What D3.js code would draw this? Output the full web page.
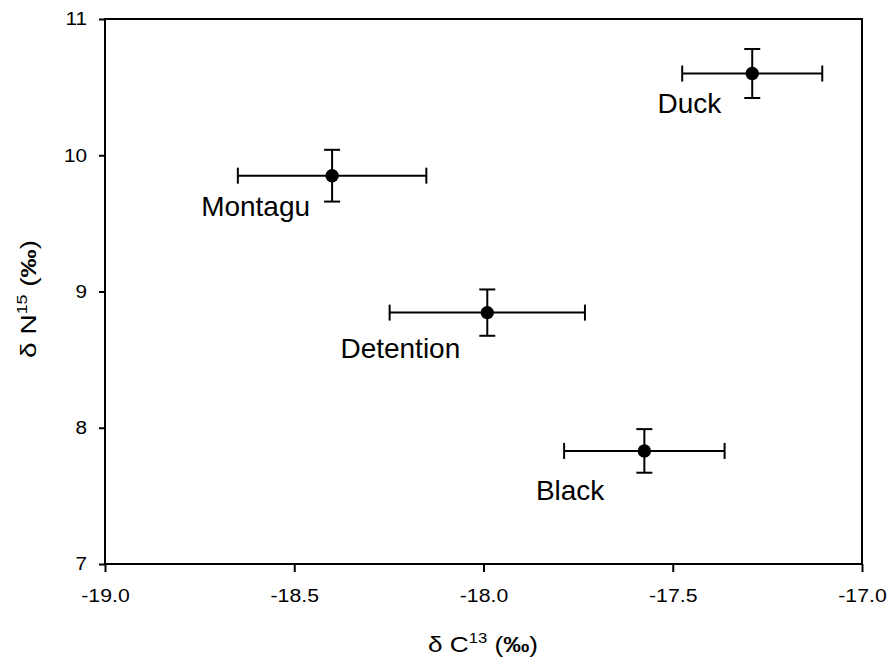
<!DOCTYPE html>
<html>
<head>
<meta charset="utf-8">
<script src="https://cdn.jsdelivr.net/npm/d3@7"></script>
<style>
  body { margin: 0; background: #fff; }
  svg text { font-family: "Liberation Sans", Arial, sans-serif; fill: #000; }
</style>
</head>
<body>
<svg id="chart" width="888" height="657"></svg>
<script>
// site means with standard errors for carbon and nitrogen isotopes
const sites = ["Duck", "Montagu", "Detention", "Black"];
const carbon = [-17.29, -18.40, -17.99, -17.575];
const carbonErr = [0.185, 0.249, 0.258, 0.212];
const nitrogen = [10.60, 9.85, 8.845, 7.83];
const nitrogenErr = [0.18, 0.19, 0.17, 0.16];

const xTicks = [-19.0, -18.5, -18.0, -17.5, -17.0];
const yTicks = [7, 8, 9, 10, 11];

// label placement relative to each point (px): right end of text and baseline
const labelOffsets = [[-31, 39], [-22, 40], [-27, 45], [-40, 49]];

const svg = d3.select("#chart");
const margin = { left: 105, right: 26, top: 19, bottom: 93 };
const width = 888 - margin.left - margin.right;
const height = 657 - margin.top - margin.bottom;

const x = d3.scaleLinear().domain([-19, -17]).range([0, width]);
const y = d3.scaleLinear().domain([7, 11]).range([height, 0]);

// widen glyphs a little along the baseline
function stretch(sel, k) {
  sel.each(function () {
    const w = this.getComputedTextLength();
    this.setAttribute("textLength", w * k);
    this.setAttribute("lengthAdjust", "spacingAndGlyphs");
  });
}

const g = svg.append("g").attr("transform", `translate(${margin.left},${margin.top})`);

// frame
g.append("rect")
  .attr("width", width).attr("height", height)
  .attr("fill", "none").attr("stroke", "#000").attr("stroke-width", 2);

const xAxis = g.append("g")
  .attr("transform", `translate(0,${height})`)
  .call(d3.axisBottom(x).tickValues(xTicks).tickFormat(d3.format(".1f")).tickSize(8).tickPadding(17));
const yAxis = g.append("g")
  .call(d3.axisLeft(y).tickValues(yTicks).tickFormat(d3.format("d")).tickSize(6).tickPadding(12));

[xAxis, yAxis].forEach(a => {
  a.select(".domain").remove();
  a.selectAll("line").attr("stroke", "#000").attr("stroke-width", 2);
  a.selectAll("text").attr("font-size", 18).attr("font-family", "Liberation Sans, Arial, sans-serif");
});
xAxis.selectAll("text").text(d => d3.format(".1f")(d).replace("−", "-"));
stretch(xAxis.selectAll("text"), 1.18);
stretch(yAxis.selectAll("text"), 1.15);

const data = sites.map((s, i) => ({
  name: s, cx: carbon[i], ce: carbonErr[i], ny: nitrogen[i], ne: nitrogenErr[i], off: labelOffsets[i]
}));

const pts = g.selectAll(".pt").data(data).enter().append("g").attr("class", "pt");
const cap = 8;

// horizontal error bars
pts.append("line")
  .attr("x1", d => x(d.cx - d.ce)).attr("x2", d => x(d.cx + d.ce))
  .attr("y1", d => y(d.ny)).attr("y2", d => y(d.ny));
pts.append("line")
  .attr("x1", d => x(d.cx - d.ce)).attr("x2", d => x(d.cx - d.ce))
  .attr("y1", d => y(d.ny) - cap).attr("y2", d => y(d.ny) + cap);
pts.append("line")
  .attr("x1", d => x(d.cx + d.ce)).attr("x2", d => x(d.cx + d.ce))
  .attr("y1", d => y(d.ny) - cap).attr("y2", d => y(d.ny) + cap);

// vertical error bars
pts.append("line")
  .attr("x1", d => x(d.cx)).attr("x2", d => x(d.cx))
  .attr("y1", d => y(d.ny - d.ne)).attr("y2", d => y(d.ny + d.ne));
pts.append("line")
  .attr("x1", d => x(d.cx) - cap).attr("x2", d => x(d.cx) + cap)
  .attr("y1", d => y(d.ny + d.ne)).attr("y2", d => y(d.ny + d.ne));
pts.append("line")
  .attr("x1", d => x(d.cx) - cap).attr("x2", d => x(d.cx) + cap)
  .attr("y1", d => y(d.ny - d.ne)).attr("y2", d => y(d.ny - d.ne));

pts.selectAll("line").attr("stroke", "#000").attr("stroke-width", 2);

pts.append("circle")
  .attr("cx", d => x(d.cx)).attr("cy", d => y(d.ny))
  .attr("r", 6.7).attr("fill", "#000");

pts.append("text")
  .attr("x", d => x(d.cx) + d.off[0]).attr("y", d => y(d.ny) + d.off[1])
  .attr("text-anchor", "end").attr("font-size", 28)
  .text(d => d.name);

// axis titles
function isoTitle(t, letter, mass) {
  t.append("tspan").text("δ " + letter);
  t.append("tspan").attr("font-size", 14).attr("dy", -9).text(mass);
  t.append("tspan").attr("dy", 9).text(" (");
  t.append("tspan").attr("font-weight", "bold").text("‰");
  t.append("tspan").text(")");
}

const xTitle = svg.append("text")
  .attr("x", 483).attr("y", 652)
  .attr("text-anchor", "middle").attr("font-size", 22)
  .attr("textLength", 110).attr("lengthAdjust", "spacingAndGlyphs");
isoTitle(xTitle, "C", "13");

const yTitle = svg.append("text")
  .attr("transform", "translate(36,299) rotate(-90)")
  .attr("text-anchor", "middle").attr("font-size", 22)
  .attr("textLength", 118).attr("lengthAdjust", "spacingAndGlyphs");
isoTitle(yTitle, "N", "15");
</script>
</body>
</html>
